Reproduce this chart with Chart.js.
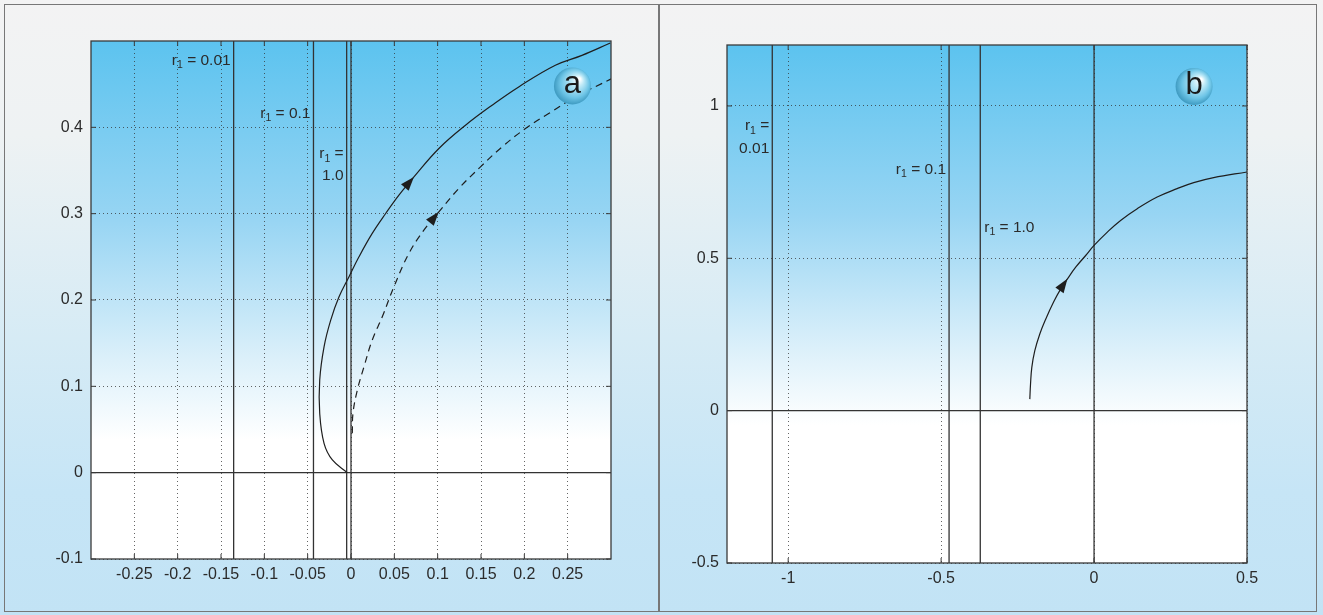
<!DOCTYPE html>
<html>
<head>
  <title>Root locus r1</title>
  <script src="https://cdn.jsdelivr.net/npm/chart.js"></script>
  <style>
    body {
      margin: 0;
      width: 1323px;
      height: 615px;
      overflow: hidden;
      position: relative;
      background: linear-gradient(to bottom, #f3f3f3 0%, #eef2f3 22%, #d6ebf5 55%, #c6e5f6 80%, #c2e3f5 100%);
    }
    /* thin frame round the whole figure, and the divider between a and b */
    #frame {
      position: absolute; left: 4px; top: 4px; width: 1313px; height: 608px;
      border: 1.5px solid #777; box-sizing: border-box;
    }
    #divider {
      position: absolute; left: 658px; top: 4px; width: 1.5px; height: 608px; background: #777;
    }
    #chartA { position: absolute; left: 0; top: 0; }
    #chartB { position: absolute; left: 662px; top: 0; }
  </style>
</head>
<body>
  <div id="frame"></div>
  <div id="divider"></div>
  <canvas id="chartA" width="658" height="615"></canvas>
  <canvas id="chartB" width="661" height="615"></canvas>

<script>
// ---- panel a ----
const xRangeA = [-0.3, 0.3];
const yRangeA = [-0.1, 0.5];
const xTicksA = [-0.25, -0.2, -0.15, -0.1, -0.05, 0, 0.05, 0.1, 0.15, 0.2, 0.25];
const xTickLabelsA = ['-0.25', '-0.2', '-0.15', '-0.1', '-0.05', '0', '0.05', '0.1', '0.15', '0.2', '0.25'];
const yTicksA = [-0.1, 0, 0.1, 0.2, 0.3, 0.4];
const yTickLabelsA = ['-0.1', '0', '0.1', '0.2', '0.3', '0.4'];

// asymptotes for r1 = 0.01, 0.1, 1.0 (plus the imaginary axis x = 0)
const rLinesA = [-0.1354, -0.0433, -0.005, 0];

// solid locus
const solidXA = [-0.0043, -0.0215, -0.0311, -0.0361, -0.0361, -0.0311, -0.0234, -0.0138, -0.0023, 0.0092, 0.0245, 0.040, 0.0553, 0.0726, 0.1014, 0.1321, 0.1628, 0.1935, 0.2358, 0.2665, 0.2992];
const solidYA = [0, 0.0147, 0.034, 0.0688, 0.1073, 0.1458, 0.1767, 0.2037, 0.2269, 0.250, 0.2771, 0.3002, 0.3214, 0.3426, 0.3755, 0.4024, 0.4256, 0.4468, 0.4719, 0.4834, 0.4977];
// dashed locus
const dashXA = [0.0015, 0.0023, 0.0073, 0.015, 0.0245, 0.0361, 0.0495, 0.0668, 0.0841, 0.1014, 0.1244, 0.1494, 0.1743, 0.2013, 0.2281, 0.2589, 0.301];
const dashYA = [0.0456, 0.0688, 0.0957, 0.1227, 0.1536, 0.1806, 0.2153, 0.2539, 0.2809, 0.3021, 0.3292, 0.3542, 0.3773, 0.3986, 0.416, 0.4352, 0.4565];

// ---- panel b ----
const xRangeB = [-1.2, 0.5];
const yRangeB = [-0.5, 1.2];
const xTicksB = [-1, -0.5, 0, 0.5];
const xTickLabelsB = ['-1', '-0.5', '0', '0.5'];
const yTicksB = [-0.5, 0, 0.5, 1];
const yTickLabelsB = ['-0.5', '0', '0.5', '1'];

const rLinesB = [-1.052, -0.474, -0.372, 0];

const locusXB = [-0.210, -0.2077, -0.2035, -0.1937, -0.1774, -0.1578, -0.1327, -0.1089, -0.087, -0.060, -0.0274, 0, 0.0434, 0.0867, 0.1412, 0.2064, 0.2716, 0.3258, 0.391, 0.5];
const locusYB = [0.0378, 0.0872, 0.1418, 0.1967, 0.2516, 0.3009, 0.3556, 0.3996, 0.4326, 0.4707, 0.5092, 0.5421, 0.5859, 0.6243, 0.6628, 0.701, 0.7286, 0.7484, 0.7648, 0.7832];

const FONT = '"Liberation Sans", Arial, sans-serif';
const INK = '#2b2b2b';

function pts(xs, ys) {
  return xs.map((x, i) => ({x: x, y: ys[i]}));
}

function vLine(x, yr) {
  return {data: [{x: x, y: yr[0]}, {x: x, y: yr[1]}], borderColor: '#333', borderWidth: 1.3, pointRadius: 0, showLine: true};
}

function hLine(y, xr) {
  return {data: [{x: xr[0], y: y}, {x: xr[1], y: y}], borderColor: '#333', borderWidth: 1.3, pointRadius: 0, showLine: true};
}

// draws "r_1 = ..." with a real subscript
function drawLabel(ctx, text, x, y, align) {
  ctx.fillStyle = INK;
  ctx.textBaseline = 'middle';
  ctx.textAlign = 'left';
  let parts;
  if (text.indexOf('_1') >= 0) {
    let s = text.split('_1');
    parts = [{t: s[0], sub: false}, {t: '1', sub: true}, {t: s[1], sub: false}];
  } else {
    parts = [{t: text, sub: false}];
  }
  let w = 0;
  parts.forEach(p => {
    ctx.font = (p.sub ? '10.5px ' : '15.5px ') + FONT;
    p.w = ctx.measureText(p.t).width;
    w += p.w;
  });
  let cx = align === 'right' ? x - w : x;
  parts.forEach(p => {
    ctx.font = (p.sub ? '10.5px ' : '15.5px ') + FONT;
    ctx.fillText(p.t, cx, p.sub ? y + 5 : y);
    cx += p.w;
  });
}

// background gradient, frame, inward ticks, labels, arrows and the round badge
const decor = {
  id: 'decor',
  beforeDraw(chart, args, opts) {
    const {ctx, chartArea: a} = chart;
    const g = ctx.createLinearGradient(0, a.top, 0, opts.fadeTo);
    g.addColorStop(0, '#5cc3ef');
    g.addColorStop(0.45, '#98d5f3');
    g.addColorStop(0.8, '#dcf0fa');
    g.addColorStop(1, '#ffffff');
    ctx.save();
    ctx.fillStyle = g;
    ctx.fillRect(a.left, a.top, a.right - a.left, a.bottom - a.top);
    ctx.restore();
  },
  afterDraw(chart, args, opts) {
    const {ctx, chartArea: a, scales: {x, y}} = chart;
    ctx.save();
    ctx.strokeStyle = '#3a3a3a';
    ctx.lineWidth = 1.3;
    ctx.strokeRect(a.left, a.top, a.right - a.left, a.bottom - a.top);
    // inward tick marks on all four sides
    ctx.lineWidth = 1;
    ctx.beginPath();
    x.ticks.forEach(t => {
      const px = x.getPixelForValue(t.value);
      ctx.moveTo(px, a.bottom); ctx.lineTo(px, a.bottom - 5);
      ctx.moveTo(px, a.top); ctx.lineTo(px, a.top + 5);
    });
    y.ticks.forEach(t => {
      const py = y.getPixelForValue(t.value);
      ctx.moveTo(a.left, py); ctx.lineTo(a.left + 5, py);
      ctx.moveTo(a.right, py); ctx.lineTo(a.right - 5, py);
    });
    ctx.stroke();

    opts.labels.forEach(l => {
      const px = x.getPixelForValue(l.x) + (l.align === 'right' ? -3 : 4);
      drawLabel(ctx, l.text, px, y.getPixelForValue(l.y), l.align);
    });

    // arrowheads along the locus
    opts.arrows.forEach(ar => {
      const d = chart.data.datasets[ar.dataset].data;
      const p0 = {x: x.getPixelForValue(d[ar.index - 1].x), y: y.getPixelForValue(d[ar.index - 1].y)};
      const p1 = {x: x.getPixelForValue(d[ar.index + 1].x), y: y.getPixelForValue(d[ar.index + 1].y)};
      const tip = {x: x.getPixelForValue(d[ar.index].x), y: y.getPixelForValue(d[ar.index].y)};
      const ang = Math.atan2(p1.y - p0.y, p1.x - p0.x);
      const len = 14, half = 5;
      ctx.fillStyle = '#1e1e1e';
      ctx.beginPath();
      ctx.moveTo(tip.x, tip.y);
      ctx.lineTo(tip.x - len * Math.cos(ang) + half * Math.sin(ang), tip.y - len * Math.sin(ang) - half * Math.cos(ang));
      ctx.lineTo(tip.x - len * Math.cos(ang) - half * Math.sin(ang), tip.y - len * Math.sin(ang) + half * Math.cos(ang));
      ctx.closePath();
      ctx.fill();
    });

    // the round letter badge
    const b = opts.badge;
    const bx = x.getPixelForValue(b.x), by = y.getPixelForValue(b.y), r = 18.5;
    const rg = ctx.createRadialGradient(bx + 7, by - 7, 1, bx, by, r + 3);
    rg.addColorStop(0, '#ffffff');
    rg.addColorStop(0.25, '#bde9f7');
    rg.addColorStop(0.65, '#6cc4e6');
    rg.addColorStop(1, '#2a88b1');
    ctx.fillStyle = rg;
    ctx.beginPath();
    ctx.arc(bx, by, r, 0, Math.PI * 2);
    ctx.fill();
    ctx.fillStyle = '#1a1a1a';
    ctx.font = '31px ' + FONT;
    ctx.textAlign = 'center';
    ctx.textBaseline = 'middle';
    ctx.fillText(b.text, bx, by - 1);
    ctx.restore();
  }
};

function axes(xr, yr, xt, xl, yt, yl, yWidth, xHeight) {
  const grid = {color: 'rgba(50,50,50,0.75)', lineWidth: 1, drawTicks: false};
  return {
    x: {
      type: 'linear', min: xr[0], max: xr[1],
      afterBuildTicks: s => { s.ticks = xt.map(v => ({value: v})); },
      afterFit: s => { s.height = xHeight; },
      grid: grid,
      border: {display: false, dash: [1, 3]},
      ticks: {autoSkip: false, maxRotation: 0, padding: 6, color: INK, font: {family: FONT, size: 16},
        callback: (v, i) => xl[i]}
    },
    y: {
      type: 'linear', min: yr[0], max: yr[1],
      afterBuildTicks: s => { s.ticks = yt.map(v => ({value: v})); },
      afterFit: s => { s.width = yWidth; },
      grid: grid,
      border: {display: false, dash: [1, 3]},
      ticks: {autoSkip: false, padding: 8, color: INK, font: {family: FONT, size: 16},
        callback: (v, i) => yl[i]}
    }
  };
}

let optionsA = {
  type: 'scatter',
  data: {
    datasets: [
      {data: pts(solidXA, solidYA), borderColor: '#1e1e1e', borderWidth: 1.2, pointRadius: 0, showLine: true, tension: 0.4},
      {data: pts(dashXA, dashYA), borderColor: '#1e1e1e', borderWidth: 1.2, borderDash: [7, 5], pointRadius: 0, showLine: true, tension: 0.4}
    ].concat(rLinesA.map(v => vLine(v, yRangeA)), [hLine(0, xRangeA)])
  },
  options: {
    responsive: false,
    animation: false,
    layout: {padding: {top: 41, right: 47, left: 0, bottom: 0}},
    scales: axes(xRangeA, yRangeA, xTicksA, xTickLabelsA, yTicksA, yTickLabelsA, 91, 56),
    plugins: {
      legend: {display: false},
      tooltip: {enabled: false},
      decor: {
        fadeTo: 440,
        labels: [
          {text: 'r_1 = 0.01', x: rLinesA[0], y: 0.4777, align: 'right'},
          {text: 'r_1 = 0.1', x: rLinesA[1], y: 0.416, align: 'right'},
          {text: 'r_1 =', x: rLinesA[2], y: 0.369, align: 'right'},
          {text: '1.0', x: rLinesA[2], y: 0.3437, align: 'right'}
        ],
        arrows: [{dataset: 0, index: 13}, {dataset: 1, index: 9}],
        badge: {text: 'a', x: 0.2555, y: 0.448}
      }
    }
  },
  plugins: [decor]
};

let optionsB = {
  type: 'scatter',
  data: {
    datasets: [
      {data: pts(locusXB, locusYB), borderColor: '#1e1e1e', borderWidth: 1.2, pointRadius: 0, showLine: true, tension: 0.4}
    ].concat(rLinesB.map(v => vLine(v, yRangeB)), [hLine(0, xRangeB)])
  },
  options: {
    responsive: false,
    animation: false,
    layout: {padding: {top: 45, right: 76, left: 0, bottom: 0}},
    scales: axes(xRangeB, yRangeB, xTicksB, xTickLabelsB, yTicksB, yTickLabelsB, 65, 52),
    plugins: {
      legend: {display: false},
      tooltip: {enabled: false},
      decor: {
        fadeTo: 425,
        labels: [
          {text: 'r_1 =', x: rLinesB[0], y: 0.9336, align: 'right'},
          {text: '0.01', x: rLinesB[0], y: 0.860, align: 'right'},
          {text: 'r_1 = 0.1', x: rLinesB[1], y: 0.792, align: 'right'},
          {text: 'r_1 = 1.0', x: rLinesB[2], y: 0.601, align: 'left'}
        ],
        arrows: [{dataset: 0, index: 8}],
        badge: {text: 'b', x: 0.327, y: 1.064}
      }
    }
  },
  plugins: [decor]
};

new Chart(document.getElementById('chartA'), optionsA);
new Chart(document.getElementById('chartB'), optionsB);
</script>
</body>
</html>
